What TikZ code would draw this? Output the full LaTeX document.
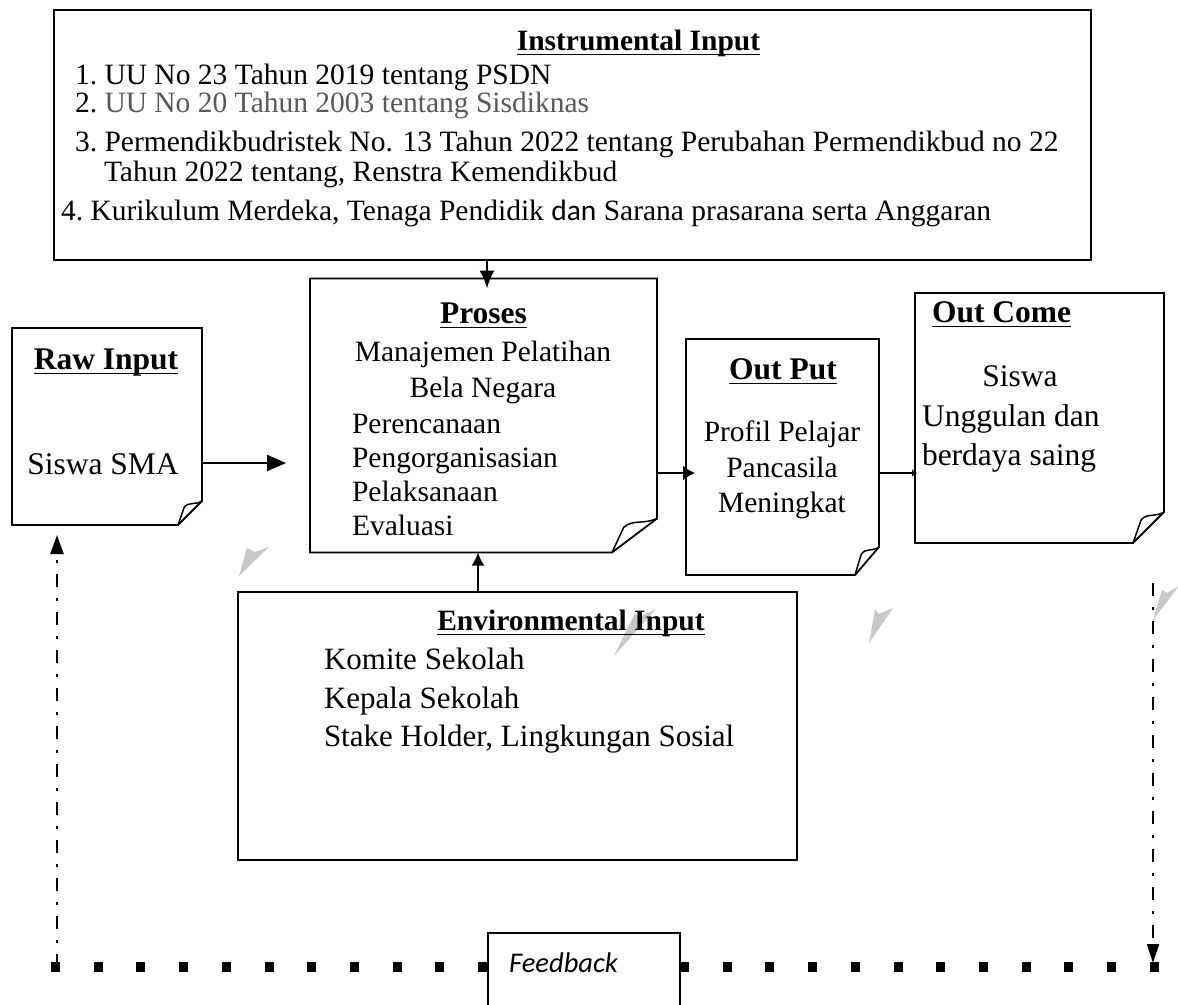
\documentclass[tikz,border=0pt]{standalone}
\usepackage{fontspec}
\setmainfont{Liberation Serif}
\newfontfamily\calibri{Carlito}
\usetikzlibrary{arrows.meta,calc}
\definecolor{greytext}{HTML}{595959}
\definecolor{wedge}{HTML}{C8C8C8}
\tikzset{
  boxline/.style={line width=1.8pt, line join=miter},
  foldline/.style={line width=1.5pt, line join=round},
  area/.style={draw=none, inner sep=0pt, outer sep=0pt},
  txt/.style={inner sep=0pt, outer sep=0pt, font=\fontsize{29.5}{35}\selectfont},
  bigtxt/.style={inner sep=0pt, outer sep=0pt, font=\fontsize{31.5}{37}\selectfont},
  envtxt/.style={inner sep=0pt, outer sep=0pt, font=\fontsize{31}{37}\selectfont},
  ttl/.style={inner sep=0pt, outer sep=0pt, font=\fontsize{29.5}{35}\selectfont\bfseries},
  bigttl/.style={inner sep=0pt, outer sep=0pt, font=\fontsize{31.5}{37}\selectfont\bfseries},
  arrline/.style={line width=2pt},
  dashdot/.style={line width=2.4pt, dash pattern=on 13pt off 11pt on 3pt off 11pt},
  sqdots/.style={line width=10pt, dash pattern=on 9pt off 33.7pt, line cap=butt},
}
\newcommand\foldbox[3]{%
  \draw[boxline] (#1.north west) -- (#1.north east) -- ([yshift=#3]#1.south east)
    -- ([xshift=-#2]#1.south east) -- (#1.south west) -- cycle;
  \draw[foldline] ([xshift=-#2]#1.south east)
    -- ([xshift=-0.74*#2,yshift=0.74*#3]#1.south east)
    .. controls ([xshift=-0.55*#2,yshift=0.98*#3]#1.south east)
    and ([xshift=-0.3*#2,yshift=0.82*#3]#1.south east) .. ([yshift=#3]#1.south east);
}
\newcommand\ul[1]{\draw[line width=1.7pt] ([yshift=-4.5pt]#1.base west) -- ([yshift=-4.5pt]#1.base east);}
\begin{document}
\begin{tikzpicture}[x=1pt,y=-1pt]
\useasboundingbox (0,0) rectangle (1178,1004);
\clip (0,0) rectangle (1178,1004);
\fill[white] (0,0) rectangle (1178,1004);

% ---------- feedback dotted line and box ----------
\node[area, minimum width=192pt, minimum height=140pt] (fb) at (584,1003) {};
\coordinate (fbL) at (51,967);
\coordinate (fbR) at (1160,967);
\draw[sqdots] (fbL) -- (fb.west |- fbL);
\draw[sqdots] (fb.east |- fbR) -- (fbR);
\draw[boxline, fill=white] (fb.south west) -- (fb.north west) -- (fb.north east) -- (fb.south east);
\node[inner sep=0pt, anchor=base west, font=\calibri\itshape\fontsize{28.5}{32}\selectfont] (fbt) at (509,972) {Feedback};

% ---------- grey wedges ----------
\fill[wedge] (247,548) -- (255,552) -- (269,547) -- (239,576) -- cycle;
\fill[wedge] (635,613) -- (639,617) -- (656,609) -- (614,656) -- cycle;
\fill[wedge] (875,610) -- (879,614) -- (893,608) -- (869,643) -- cycle;
\fill[wedge] (1162,590) -- (1167,593) -- (1179,586) -- (1153,620) -- cycle;

% ---------- box areas ----------
\node[area, minimum width=1037pt, minimum height=250pt] (instr) at (572.5,135) {};
\node[area, minimum width=347pt, minimum height=274pt] (proses) at (483.5,415.5) {};
\node[area, minimum width=190pt, minimum height=197pt] (raw) at (107,426.5) {};
\node[area, minimum width=193pt, minimum height=236pt] (output) at (782.5,457) {};
\node[area, minimum width=249pt, minimum height=250pt] (outcome) at (1039.5,418) {};
\node[area, minimum width=559pt, minimum height=268pt] (env) at (517.5,726) {};

\draw[boxline] (instr.north west) rectangle (instr.south east);
\draw[boxline] (env.north west) rectangle (env.south east);
\foldbox{proses}{45pt}{34pt}
\foldbox{raw}{24pt}{24pt}
\foldbox{output}{24pt}{28pt}
\foldbox{outcome}{31pt}{31pt}

% ---------- Instrumental input text ----------
\node[ttl, anchor=base] (it) at (638.5,50) {Instrumental Input};
\ul{it}
\node[txt, anchor=base west] (i1) at (75,84) {1.\ UU No 23 Tahun 2019 tentang PSDN};
\node[txt, anchor=base west] (i2) at (75,112) {2.\ \textcolor{greytext}{UU No 20 Tahun 2003 tentang Sisdiknas}};
\node[txt, anchor=base west] (i3) at (75,151) {3.\ Permendikbudristek No. 13 Tahun 2022 tentang Perubahan Permendikbud no 22};
\node[txt, anchor=base west] (i3b) at (104,181) {Tahun 2022 tentang, Renstra Kemendikbud};
\node[txt, anchor=base west] (i4) at (61,220) {4.\ Kurikulum Merdeka, Tenaga Pendidik {\calibri dan} Sarana prasarana serta Anggaran};

% ---------- Proses text ----------
\node[bigttl, anchor=base] (pt) at (483.5,323) {Proses};
\ul{pt}
\node[txt, anchor=base] (p1) at (483,361) {Manajemen Pelatihan};
\node[txt, anchor=base] (p2) at (483,397) {Bela Negara};
\node[txt, anchor=base west] (p3) at (352,433) {Perencanaan};
\node[txt, anchor=base west] (p4) at (352,467) {Pengorganisasian};
\node[txt, anchor=base west] (p5) at (352,501) {Pelaksanaan};
\node[txt, anchor=base west] (p6) at (352,535) {Evaluasi};

% ---------- Raw input text ----------
\node[bigttl, anchor=base] (rt) at (106,369) {Raw Input};
\ul{rt}
\node[bigtxt, anchor=base] (r1) at (103,474) {Siswa SMA};

% ---------- Output text ----------
\node[bigttl, anchor=base] (ot) at (783,379) {Out Put};
\ul{ot}
\node[txt, anchor=base] (o1) at (782,441) {Profil Pelajar};
\node[txt, anchor=base] (o2) at (782,477) {Pancasila};
\node[txt, anchor=base] (o3) at (782,512) {Meningkat};

% ---------- Outcome text ----------
\node[bigttl, anchor=base west] (ct) at (932,322) {Out Come};
\ul{ct}
\node[bigtxt, anchor=base] (c1) at (1020,386) {Siswa};
\node[bigtxt, anchor=base west] (c2) at (922,426) {Unggulan dan};
\node[bigtxt, anchor=base west] (c3) at (922,465) {berdaya saing};

% ---------- Environmental text ----------
\node[ttl, anchor=base] (et) at (571,630) {Environmental Input};
\ul{et}
\node[envtxt, anchor=base west] (e1) at (324,669) {Komite Sekolah};
\node[envtxt, anchor=base west] (e2) at (324,708) {Kepala Sekolah};
\node[envtxt, anchor=base west] (e3) at (324,746) {Stake Holder, Lingkungan Sosial};

% ---------- connectors ----------
\draw[arrline, -{Latex[length=18pt,width=15pt]}, shorten >=-10pt]
  ([xshift=3.5pt]proses.north |- instr.south) -- ([xshift=3.5pt]proses.north);
\draw[arrline, -{Latex[length=13pt,width=13pt]}]
  ([xshift=-5.5pt]proses.south |- env.north) -- ([xshift=-5.5pt]proses.south);
\draw[arrline, -{Triangle[length=19pt,width=16pt]}, shorten >=24pt]
  ([yshift=-36.5pt]raw.east) -- ([yshift=-36.5pt]raw.east -| proses.west);
\draw[arrline, -{Latex[length=12pt,width=15pt]}, shorten >=-9pt]
  ([yshift=-57.5pt]proses.east) -- ([yshift=-57.5pt]proses.east -| output.west);
\draw[arrline, line width=2.4pt, -{Latex[length=5pt,width=8pt]}, shorten >=-2pt]
  ([yshift=-16pt]output.east) -- ([yshift=-16pt]output.east -| outcome.west);

% ---------- feedback dash-dot arrows ----------
\coordinate (lc) at (57,967);
\coordinate (rc) at (1153,583);
\draw[dashdot, -{Triangle[length=19pt,width=13pt]}, shorten >=10pt]
  (lc) -- (lc |- raw.south);
\draw[dashdot, -{Triangle[length=19pt,width=12pt]}, shorten >=4pt]
  (rc) -- (rc |- fbR);
\end{tikzpicture}
\end{document}
